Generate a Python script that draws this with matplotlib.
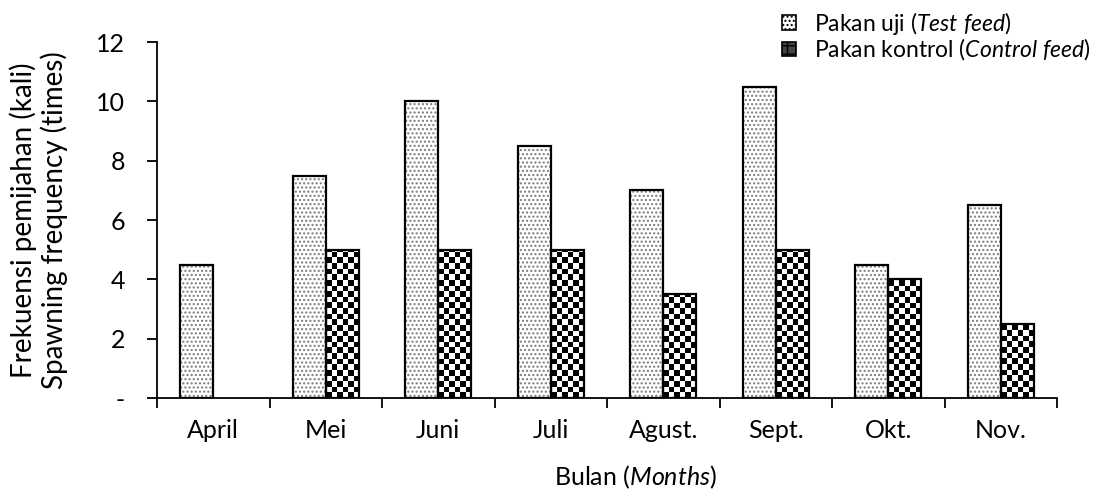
import numpy as np
import matplotlib
matplotlib.use("Agg")
import matplotlib.pyplot as plt
from matplotlib.patches import Patch

plt.rcParams["font.family"] = ["Lato", "DejaVu Sans"]
plt.rcParams["mathtext.fontset"] = "custom"
plt.rcParams["mathtext.rm"] = "Lato"
plt.rcParams["mathtext.it"] = "Lato:italic"
plt.rcParams["hatch.linewidth"] = 1.0

months = ["April", "Mei", "Juni", "Juli", "Agust.", "Sept.", "Okt.", "Nov."]
test_feed = [4.5, 7.5, 10, 8.5, 7, 10.5, 4.5, 6.5]
control_feed = [0, 5, 5, 5, 3.5, 5, 4, 2.5]
y_ticks = [0, 2, 4, 6, 8, 10, 12]
y_ticklabels = ["-", "2", "4", "6", "8", "10", "12"]

fig = plt.figure(figsize=(11.02, 4.99), dpi=100)
ax = fig.add_axes([0.1425, 0.2024, 0.8167, 0.7134])

x = np.arange(len(months))
w = 0.293
fs = 18

# test feed: grey dots, black outline
ax.bar(x - w / 2, test_feed, w, color="white", edgecolor="#7a7a7a", hatch="....", linewidth=0, zorder=2)
ax.bar(x - w / 2, test_feed, w, fill=False, edgecolor="black", linewidth=1.6, zorder=4)

# control feed: checkerboard clipped into each bar
ctrl = ax.bar(x + w / 2, control_feed, w, color="white", linewidth=0, zorder=2)
ax.set_xlim(-0.5, len(months) - 0.5)
ax.set_ylim(0, 12)
fig.canvas.draw()
px_per_x = ax.transData.transform((1, 0))[0] - ax.transData.transform((0, 0))[0]
px_per_y = ax.transData.transform((0, 1))[1] - ax.transData.transform((0, 0))[1]
cell = 5.6
for rect in ctrl:
    h = rect.get_height()
    if h <= 0:
        continue
    x0 = rect.get_x()
    bw = rect.get_width()
    nx = int(np.ceil(bw * px_per_x / cell))
    ny = int(np.ceil(h * px_per_y / cell))
    board = (np.add.outer(np.arange(ny), np.arange(nx)) % 2).astype(float)
    im = ax.imshow(board, cmap="gray", interpolation="nearest", origin="lower", aspect="auto",
                   extent=(x0, x0 + nx * cell / px_per_x, 0, ny * cell / px_per_y), zorder=3)
    im.set_clip_path(rect)
ctrl_vis = [v if v > 0 else np.nan for v in control_feed]
ax.bar(x + w / 2, ctrl_vis, w, fill=False, edgecolor="black", linewidth=1.6, zorder=4)
ax.set_xlim(-0.5, len(months) - 0.5)
ax.set_ylim(0, 12)

for s in ["top", "right"]:
    ax.spines[s].set_visible(False)
for s in ["left", "bottom"]:
    ax.spines[s].set_linewidth(1.3)
    ax.spines[s].set_zorder(5)

ax.set_xticks(np.arange(len(months) + 1) - 0.5)
ax.set_xticklabels([])
ax.set_xticks(x, minor=True)
ax.set_xticklabels(months, minor=True, fontsize=fs)
ax.tick_params(axis="x", which="major", direction="out", length=7, width=1.3)
ax.tick_params(axis="x", which="minor", length=0, pad=15)

ax.set_yticks(y_ticks)
ax.set_yticklabels(y_ticklabels, fontsize=fs)
ax.tick_params(axis="y", direction="out", length=7, width=1.3, pad=16)

ax.set_xlabel("Bulan ($\\mathit{Months}$)", fontsize=fs)
ax.xaxis.set_label_coords(0.532, -0.185)
ax.set_ylabel("Frekuensi pemijahan (kali)\nSpawning frequency (times)", fontsize=20, linespacing=1.15)
ax.yaxis.set_label_coords(-0.099, 0.5)

handles = [
    Patch(facecolor="white", edgecolor="black", hatch="....", linewidth=1.2),
    Patch(facecolor="#444444", edgecolor="black", hatch="++", linewidth=1.2),
]
labels = ["Pakan uji ($\\mathit{Test\\ feed}$)", "Pakan kontrol ($\\mathit{Control\\ feed}$)"]
fig.legend(handles, labels, loc="upper left", bbox_to_anchor=(0.691, 1.022), frameon=False,
           fontsize=16.5, handlelength=0.6, handleheight=0.6, handletextpad=0.8, labelspacing=0.0)

fig.savefig("out.png", dpi=100)
